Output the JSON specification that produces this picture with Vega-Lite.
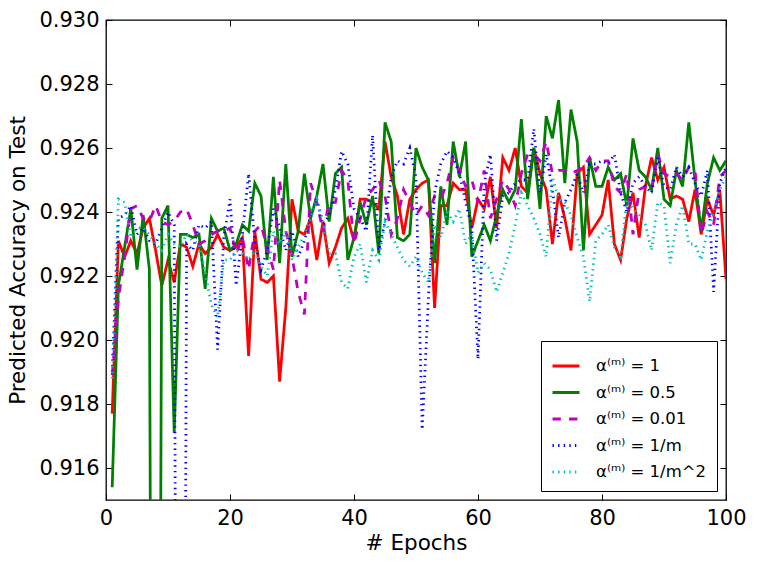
{
"$schema": "https://vega.github.io/schema/vega-lite/v6.json",
"width": 620, "height": 480,
"autosize": {"type": "none"},
"padding": {"left": 106, "top": 20, "right": 31, "bottom": 62},
"background": "white",
"config": {
  "view": {"stroke": "black", "strokeWidth": 1.3},
  "font": "DejaVu Sans",
  "axis": {"grid": false, "domain": false, "tickColor": "black", "tickSize": -6, "tickWidth": 1, "labelFont": "DejaVu Sans", "labelFontSize": 21, "labelColor": "black", "labelFlush": false, "labelOverlap": false, "titleFont": "DejaVu Sans", "titleFontSize": 21.5, "titleFontWeight": "normal", "titleColor": "black", "labelPadding": 13}
},
"data": {"values": [
{"e":1,"a1":0.9177,"a05":0.9154,"a001":0.9189,"am":0.9190,"am2":0.9188},
{"e":2,"a1":0.9231,"a05":0.9217,"a001":0.9213,"am":0.9238,"am2":0.9244},
{"e":3,"a1":0.9226,"a05":0.9229,"a001":0.9226,"am":0.9239,"am2":0.9243},
{"e":4,"a1":0.9231,"a05":0.9241,"a001":0.9241,"am":0.9242,"am2":0.9232},
{"e":5,"a1":0.9227,"a05":0.9222,"a001":0.9242,"am":0.9233,"am2":0.9235},
{"e":6,"a1":0.9235,"a05":0.9239,"a001":0.9238,"am":0.9235,"am2":0.9235},
{"e":7,"a1":0.9238,"a05":0.9222,"a001":0.9237,"am":0.9231,"am2":0.9233},
{"e":8,"a1":0.9228,"a05":0.8700,"a001":0.9242,"am":0.9230,"am2":0.9230},
{"e":9,"a1":0.9217,"a05":0.9238,"a001":0.9237,"am":0.9235,"am2":0.9228},
{"e":10,"a1":0.9225,"a05":0.9242,"a001":0.9236,"am":0.9240,"am2":0.9233},
{"e":11,"a1":0.9218,"a05":0.9171,"a001":0.9237,"am":0.9236,"am2":0.9230},
{"e":12,"a1":0.9230,"a05":0.9233,"a001":0.9240,"am":0.8700,"am2":0.9229},
{"e":13,"a1":0.9229,"a05":0.9233,"a001":0.9241,"am":0.9230,"am2":0.9233},
{"e":14,"a1":0.9223,"a05":0.9232,"a001":0.9236,"am":0.9228,"am2":0.9231},
{"e":15,"a1":0.9230,"a05":0.9233,"a001":0.9230,"am":0.9236,"am2":0.9230},
{"e":16,"a1":0.9227,"a05":0.9216,"a001":0.9231,"am":0.9235,"am2":0.9221},
{"e":17,"a1":0.9229,"a05":0.9238,"a001":0.9233,"am":0.9237,"am2":0.9211},
{"e":18,"a1":0.9233,"a05":0.9234,"a001":0.9234,"am":0.9197,"am2":0.9207},
{"e":19,"a1":0.9229,"a05":0.9235,"a001":0.9234,"am":0.9232,"am2":0.9225},
{"e":20,"a1":0.9228,"a05":0.9228,"a001":0.9235,"am":0.9244,"am2":0.9225},
{"e":21,"a1":0.9229,"a05":0.9230,"a001":0.9227,"am":0.9217,"am2":0.9228},
{"e":22,"a1":0.9232,"a05":0.9236,"a001":0.9232,"am":0.9233,"am2":0.9227},
{"e":23,"a1":0.9195,"a05":0.9234,"a001":0.9222,"am":0.9252,"am2":0.9225},
{"e":24,"a1":0.9234,"a05":0.9249,"a001":0.9234,"am":0.9231,"am2":0.9228},
{"e":25,"a1":0.9219,"a05":0.9245,"a001":0.9236,"am":0.9222,"am2":0.9223},
{"e":26,"a1":0.9218,"a05":0.9225,"a001":0.9229,"am":0.9228,"am2":0.9220},
{"e":27,"a1":0.9220,"a05":0.9251,"a001":0.9222,"am":0.9241,"am2":0.9234},
{"e":28,"a1":0.9187,"a05":0.9224,"a001":0.9250,"am":0.9235,"am2":0.9230},
{"e":29,"a1":0.9210,"a05":0.9255,"a001":0.9234,"am":0.9228,"am2":0.9234},
{"e":30,"a1":0.9244,"a05":0.9226,"a001":0.9226,"am":0.9234,"am2":0.9225},
{"e":31,"a1":0.9234,"a05":0.9234,"a001":0.9215,"am":0.9226,"am2":0.9229},
{"e":32,"a1":0.9233,"a05":0.9252,"a001":0.9208,"am":0.9231,"am2":0.9233},
{"e":33,"a1":0.9238,"a05":0.9238,"a001":0.9249,"am":0.9239,"am2":0.9238},
{"e":34,"a1":0.9225,"a05":0.9245,"a001":0.9243,"am":0.9244,"am2":0.9244},
{"e":35,"a1":0.9237,"a05":0.9255,"a001":0.9234,"am":0.9236,"am2":0.9237},
{"e":36,"a1":0.9224,"a05":0.9237,"a001":0.9243,"am":0.9239,"am2":0.9227},
{"e":37,"a1":0.9229,"a05":0.9252,"a001":0.9243,"am":0.9247,"am2":0.9227},
{"e":38,"a1":0.9235,"a05":0.9254,"a001":0.9253,"am":0.9259,"am2":0.9218},
{"e":39,"a1":0.9238,"a05":0.9225,"a001":0.9250,"am":0.9255,"am2":0.9216},
{"e":40,"a1":0.9231,"a05":0.9232,"a001":0.9230,"am":0.9241,"am2":0.9226},
{"e":41,"a1":0.9244,"a05":0.9243,"a001":0.9238,"am":0.9238,"am2":0.9230},
{"e":42,"a1":0.9244,"a05":0.9236,"a001":0.9245,"am":0.9234,"am2":0.9218},
{"e":43,"a1":0.9243,"a05":0.9245,"a001":0.9247,"am":0.9264,"am2":0.9228},
{"e":44,"a1":0.9241,"a05":0.9227,"a001":0.9250,"am":0.9228,"am2":0.9225},
{"e":45,"a1":0.9262,"a05":0.9268,"a001":0.9245,"am":0.9237,"am2":0.9237},
{"e":46,"a1":0.9251,"a05":0.9262,"a001":0.9233,"am":0.9251,"am2":0.9233},
{"e":47,"a1":0.9245,"a05":0.9232,"a001":0.9238,"am":0.9256,"am2":0.9229},
{"e":48,"a1":0.9233,"a05":0.9231,"a001":0.9247,"am":0.9255,"am2":0.9225},
{"e":49,"a1":0.9244,"a05":0.9233,"a001":0.9243,"am":0.9260,"am2":0.9223},
{"e":50,"a1":0.9247,"a05":0.9260,"a001":0.9239,"am":0.9251,"am2":0.9226},
{"e":51,"a1":0.9249,"a05":0.9254,"a001":0.9242,"am":0.9172,"am2":0.9221},
{"e":52,"a1":0.9250,"a05":0.9250,"a001":0.9239,"am":0.9213,"am2":0.9218},
{"e":53,"a1":0.9210,"a05":0.9224,"a001":0.9245,"am":0.9246,"am2":0.9236},
{"e":54,"a1":0.9242,"a05":0.9248,"a001":0.9244,"am":0.9255,"am2":0.9232},
{"e":55,"a1":0.9242,"a05":0.9236,"a001":0.9249,"am":0.9259,"am2":0.9240},
{"e":56,"a1":0.9249,"a05":0.9262,"a001":0.9257,"am":0.9257,"am2":0.9237},
{"e":57,"a1":0.9247,"a05":0.9251,"a001":0.9253,"am":0.9252,"am2":0.9241},
{"e":58,"a1":0.9247,"a05":0.9262,"a001":0.9248,"am":0.9243,"am2":0.9230},
{"e":59,"a1":0.9235,"a05":0.9226,"a001":0.9250,"am":0.9235,"am2":0.9233},
{"e":60,"a1":0.9244,"a05":0.9231,"a001":0.9243,"am":0.9194,"am2":0.9221},
{"e":61,"a1":0.9241,"a05":0.9236,"a001":0.9253,"am":0.9249,"am2":0.9224},
{"e":62,"a1":0.9251,"a05":0.9231,"a001":0.9238,"am":0.9258,"am2":0.9222},
{"e":63,"a1":0.9235,"a05":0.9239,"a001":0.9244,"am":0.9231,"am2":0.9215},
{"e":64,"a1":0.9257,"a05":0.9247,"a001":0.9250,"am":0.9245,"am2":0.9221},
{"e":65,"a1":0.9253,"a05":0.9243,"a001":0.9247,"am":0.9246,"am2":0.9227},
{"e":66,"a1":0.9260,"a05":0.9247,"a001":0.9242,"am":0.9249,"am2":0.9236},
{"e":67,"a1":0.9248,"a05":0.9269,"a001":0.9252,"am":0.9250,"am2":0.9246},
{"e":68,"a1":0.9246,"a05":0.9244,"a001":0.9258,"am":0.9250,"am2":0.9242},
{"e":69,"a1":0.9260,"a05":0.9260,"a001":0.9258,"am":0.9266,"am2":0.9238},
{"e":70,"a1":0.9252,"a05":0.9241,"a001":0.9256,"am":0.9246,"am2":0.9233},
{"e":71,"a1":0.9247,"a05":0.9270,"a001":0.9262,"am":0.9258,"am2":0.9226},
{"e":72,"a1":0.9230,"a05":0.9263,"a001":0.9252,"am":0.9247,"am2":0.9251},
{"e":73,"a1":0.9246,"a05":0.9275,"a001":0.9253,"am":0.9232,"am2":0.9244},
{"e":74,"a1":0.9238,"a05":0.9249,"a001":0.9253,"am":0.9243,"am2":0.9243},
{"e":75,"a1":0.9228,"a05":0.9272,"a001":0.9252,"am":0.9247,"am2":0.9239},
{"e":76,"a1":0.9252,"a05":0.9262,"a001":0.9253,"am":0.9252,"am2":0.9232},
{"e":77,"a1":0.9254,"a05":0.9228,"a001":0.9254,"am":0.9246,"am2":0.9226},
{"e":78,"a1":0.9233,"a05":0.9257,"a001":0.9257,"am":0.9255,"am2":0.9212},
{"e":79,"a1":0.9236,"a05":0.9248,"a001":0.9253,"am":0.9255,"am2":0.9231},
{"e":80,"a1":0.9239,"a05":0.9248,"a001":0.9256,"am":0.9256,"am2":0.9233},
{"e":81,"a1":0.9250,"a05":0.9254,"a001":0.9256,"am":0.9255,"am2":0.9236},
{"e":82,"a1":0.9230,"a05":0.9250,"a001":0.9248,"am":0.9258,"am2":0.9229},
{"e":83,"a1":0.9225,"a05":0.9252,"a001":0.9246,"am":0.9246,"am2":0.9226},
{"e":84,"a1":0.9238,"a05":0.9242,"a001":0.9252,"am":0.9240,"am2":0.9244},
{"e":85,"a1":0.9246,"a05":0.9263,"a001":0.9233,"am":0.9249,"am2":0.9241},
{"e":86,"a1":0.9232,"a05":0.9253,"a001":0.9247,"am":0.9251,"am2":0.9239},
{"e":87,"a1":0.9248,"a05":0.9251,"a001":0.9248,"am":0.9248,"am2":0.9236},
{"e":88,"a1":0.9257,"a05":0.9247,"a001":0.9247,"am":0.9246,"am2":0.9228},
{"e":89,"a1":0.9250,"a05":0.9260,"a001":0.9258,"am":0.9257,"am2":0.9243},
{"e":90,"a1":0.9254,"a05":0.9244,"a001":0.9252,"am":0.9248,"am2":0.9242},
{"e":91,"a1":0.9244,"a05":0.9242,"a001":0.9251,"am":0.9247,"am2":0.9224},
{"e":92,"a1":0.9245,"a05":0.9253,"a001":0.9252,"am":0.9254,"am2":0.9236},
{"e":93,"a1":0.9244,"a05":0.9248,"a001":0.9250,"am":0.9251,"am2":0.9242},
{"e":94,"a1":0.9237,"a05":0.9268,"a001":0.9254,"am":0.9254,"am2":0.9230},
{"e":95,"a1":0.9247,"a05":0.9250,"a001":0.9253,"am":0.9249,"am2":0.9230},
{"e":96,"a1":0.9233,"a05":0.9234,"a001":0.9233,"am":0.9245,"am2":0.9225},
{"e":97,"a1":0.9244,"a05":0.9249,"a001":0.9240,"am":0.9253,"am2":0.9234},
{"e":98,"a1":0.9239,"a05":0.9257,"a001":0.9236,"am":0.9215,"am2":0.9240},
{"e":99,"a1":0.9247,"a05":0.9253,"a001":0.9251,"am":0.9249,"am2":0.9247},
{"e":100,"a1":0.9219,"a05":0.9256,"a001":0.9253,"am":0.9254,"am2":0.9251}
]},
"transform": [{"fold": ["a1", "a05", "a001", "am", "am2"], "as": ["s", "v"]}],
"layer": [
  {
    "mark": {"type": "line", "clip": true, "strokeWidth": 2.78},
    "encoding": {
      "x": {"field": "e", "type": "quantitative", "scale": {"domain": [0, 100], "nice": false}, "axis": {"values": [0, 20, 40, 60, 80, 100], "title": "# Epochs", "titlePadding": 4}},
      "y": {"field": "v", "type": "quantitative", "scale": {"domain": [0.915, 0.930], "nice": false, "zero": false}, "axis": {"values": [0.916, 0.918, 0.920, 0.922, 0.924, 0.926, 0.928, 0.930], "format": ".3f", "title": "Predicted Accuracy on Test", "titlePadding": 9}},
      "color": {"field": "s", "type": "nominal", "sort": null,
        "scale": {"domain": ["a1", "a05", "a001", "am", "am2"], "range": ["#ff0000", "#008000", "#bf00bf", "#0000ff", "#00bfbf"]},
        "legend": {"title": null, "orient": "bottom-right", "offset": 9, "symbolType": "stroke", "symbolSize": 729, "symbolStrokeWidth": 2.78, "labelFont": "DejaVu Sans", "labelFontSize": 16.5, "labelColor": "black", "strokeColor": "black", "fillColor": "white", "padding": 10, "rowPadding": 2.5, "labelOffset": 15, "cornerRadius": 0,
          "labelExpr": "datum.label == 'a1' ? 'α⁽ᵐ⁾ = 1' : datum.label == 'a05' ? 'α⁽ᵐ⁾ = 0.5' : datum.label == 'a001' ? 'α⁽ᵐ⁾ = 0.01' : datum.label == 'am' ? 'α⁽ᵐ⁾ = 1/m' : 'α⁽ᵐ⁾ = 1/m^2'"}},
      "strokeDash": {"field": "s", "type": "nominal", "sort": null,
        "scale": {"domain": ["a1", "a05", "a001", "am", "am2"], "range": [[1, 0], [1, 0], [8.3, 8.3], [1.4, 4.2], [1.4, 4.2]]},
        "legend": {"title": null, "orient": "bottom-right", "offset": 9, "symbolType": "stroke", "symbolSize": 729, "symbolStrokeWidth": 2.78, "labelFont": "DejaVu Sans", "labelFontSize": 16.5, "labelColor": "black", "strokeColor": "black", "fillColor": "white", "padding": 10, "rowPadding": 2.5, "labelOffset": 15, "cornerRadius": 0,
          "labelExpr": "datum.label == 'a1' ? 'α⁽ᵐ⁾ = 1' : datum.label == 'a05' ? 'α⁽ᵐ⁾ = 0.5' : datum.label == 'a001' ? 'α⁽ᵐ⁾ = 0.01' : datum.label == 'am' ? 'α⁽ᵐ⁾ = 1/m' : 'α⁽ᵐ⁾ = 1/m^2'"}}
    }
  },
  {
    "mark": {"type": "line", "clip": true, "opacity": 0},
    "encoding": {
      "x": {"field": "e", "type": "quantitative", "scale": {"domain": [0, 100], "nice": false}, "axis": {"orient": "top", "labels": false, "title": null, "values": [0, 20, 40, 60, 80, 100]}},
      "y": {"field": "v", "type": "quantitative", "scale": {"domain": [0.915, 0.930], "nice": false, "zero": false}, "axis": {"orient": "right", "labels": false, "title": null, "values": [0.916, 0.918, 0.920, 0.922, 0.924, 0.926, 0.928, 0.930]}},
      "detail": {"field": "s"}
    }
  }
],
"resolve": {"axis": {"x": "independent", "y": "independent"}}
}
